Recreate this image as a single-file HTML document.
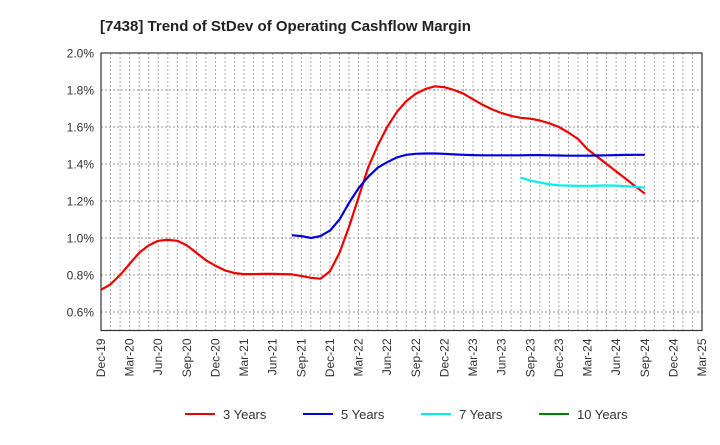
<!DOCTYPE html>
<html><head><meta charset="utf-8"><style>
body{margin:0;background:#fff;font-family:"Liberation Sans",sans-serif;}
</style></head><body>
<svg id="chart" width="720" height="440" xmlns="http://www.w3.org/2000/svg" font-family="Liberation Sans, sans-serif">
<text x="100" y="31" font-size="15" font-weight="bold" fill="#222">[7438]  Trend of StDev of Operating Cashflow Margin</text>
<g id="grid"></g><g id="axes"></g><g id="series"></g><g id="legend"></g>
</svg>
<script>
const xLabels=["Dec-19","Mar-20","Jun-20","Sep-20","Dec-20","Mar-21","Jun-21","Sep-21","Dec-21","Mar-22","Jun-22","Sep-22","Dec-22","Mar-23","Jun-23","Sep-23","Dec-23","Mar-24","Jun-24","Sep-24","Dec-24","Mar-25"];
const yTicks=[0.6,0.8,1.0,1.2,1.4,1.6,1.8,2.0];
const s3=[0.72,0.75,0.80,0.86,0.92,0.96,0.985,0.99,0.985,0.96,0.92,0.88,0.85,0.825,0.81,0.805,0.805,0.806,0.806,0.805,0.803,0.795,0.785,0.78,0.82,0.92,1.06,1.22,1.38,1.50,1.60,1.68,1.74,1.78,1.805,1.82,1.815,1.80,1.78,1.75,1.72,1.695,1.675,1.66,1.65,1.645,1.635,1.62,1.60,1.57,1.535,1.48,1.44,1.40,1.36,1.32,1.28,1.24];
const s3Start=0;
const s5=[1.015,1.01,1.0,1.01,1.04,1.10,1.19,1.27,1.33,1.38,1.41,1.435,1.45,1.455,1.457,1.457,1.455,1.452,1.45,1.448,1.447,1.447,1.447,1.447,1.447,1.448,1.448,1.447,1.446,1.445,1.445,1.445,1.446,1.447,1.448,1.449,1.45,1.45];
const s5Start=20;
const s7=[1.326,1.31,1.30,1.29,1.285,1.283,1.282,1.282,1.283,1.284,1.283,1.28,1.276,1.272];
const s7Start=44;
const NS="http://www.w3.org/2000/svg";
const L=101,R=702,T=53,B=330.5,months=63;
const xs=i=>L+(R-L)*i/months;
const ys=v=>B-(v-0.5)/1.5*(B-T);
function el(tag,attrs,parent){const e=document.createElementNS(NS,tag);for(const k in attrs)e.setAttribute(k,attrs[k]);parent.appendChild(e);return e;}
const grid=document.getElementById('grid'),axes=document.getElementById('axes'),series=document.getElementById('series'),legend=document.getElementById('legend');
for(let m=1;m<months;m++){const g=el('line',{x1:xs(m),x2:xs(m),y1:T,y2:B,stroke:'#aaa','stroke-dasharray':'2,2','stroke-width':1},grid);

}
yTicks.forEach(v=>{const g=el('line',{x1:L,x2:R,y1:ys(v),y2:ys(v),stroke:'#999','stroke-dasharray':'2,2','stroke-width':1},grid);


const t=el('text',{x:L-7,y:ys(v)+4.5,'text-anchor':'end','font-size':12,fill:'#333'},axes);t.textContent=v.toFixed(1)+'%';

});
const frame=el('rect',{x:L,y:T,width:R-L,height:B-T,fill:'none',stroke:'#333','stroke-width':1.2},axes);


xLabels.forEach((lab,i)=>{const x=xs(i*3);const t=el('text',{x:0,y:0,transform:`translate(${x+4},${B+8}) rotate(-90)`,'text-anchor':'end','font-size':12,fill:'#333'},axes);t.textContent=lab;

});
function line(arr,start,color,name){const d=arr.map((v,i)=>(i?'L':'M')+xs(start+i).toFixed(1)+','+ys(v).toFixed(1)).join('');
const p=el('path',{d:d,fill:'none',stroke:color,'stroke-width':2.2,'stroke-linejoin':'round'},series);

}
line(s3,s3Start,'#e00','line-3-years');
line(s5,s5Start,'#0000dd','line-5-years');
line(s7,s7Start,'#00eeee','line-7-years');
const items=[['3 Years','#e00',185],['5 Years','#0000dd',303],['7 Years','#00eeee',421],['10 Years','#008000',539]];
items.forEach(([lab,c,x])=>{const g=el('g',{},legend);


el('line',{x1:x,x2:x+30,y1:414,y2:414,stroke:c,'stroke-width':2},g);
const t=el('text',{x:x+38,y:419,'font-size':13,fill:'#333'},g);t.textContent=lab;});
</script>
</body></html>
